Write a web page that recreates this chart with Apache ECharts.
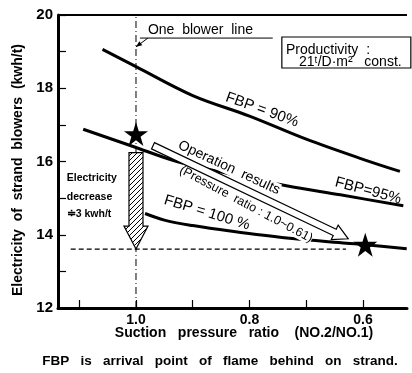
<!DOCTYPE html>
<html><head><meta charset="utf-8">
<script src="https://cdn.jsdelivr.net/npm/echarts@6/dist/echarts.min.js"></script>
<style>html,body{margin:0;padding:0;background:#fff}#c{width:412px;height:373px}</style>
</head><body><div id="c"></div>
<script>
// ---------- data ----------
const xTickValues = [1.1, 1.0, 0.9, 0.8, 0.7, 0.6];
const xLabelValues = [1.0, 0.8, 0.6];
const yTickValues = [12, 14, 16, 18, 20];
const fbp90X = [1.059, 1.0, 0.9, 0.8, 0.7, 0.6, 0.535];
const fbp90Y = [19.06, 18.59, 17.80, 17.24, 16.61, 16.06, 15.73];
const fbp95X = [1.093, 1.005, 0.928, 0.835, 0.735, 0.64, 0.529];
const fbp95Y = [16.88, 16.41, 16.00, 15.66, 15.34, 15.09, 14.79];
const fbp100X = [0.984, 0.95, 0.9, 0.834, 0.734, 0.629, 0.596, 0.523];
const fbp100Y = [14.58, 14.40, 14.25, 14.10, 13.91, 13.77, 13.73, 13.62];
const starX = [1.0, 0.596];
const starY = [16.75, 13.73];
const baseLevelX = [1.115, 0.63];
const baseLevelY = [13.61, 13.61];
const blowerLineX = [1.0, 1.0];
const blowerLineY = [12, 20];
const decreaseFrom = [1.0, 16.24];
const decreaseTo = [1.0, 13.61];
const opFrom = [0.970, 16.43];
const opTo = [0.626, 13.89];

const zip = (xs, ys) => xs.map((x, i) => [x, ys[i]]);
const FONT = '"Liberation Sans", Arial, sans-serif';
const X_MIN = 0.5225, X_MAX = 1.1374;

const starPath = 'path://M50,0 L61.2,34.5 L97.6,34.5 L68.2,55.9 L79.4,90.5 L50,69.1 L20.6,90.5 L31.8,55.9 L2.4,34.5 L38.8,34.5 Z';

const lineBase = {type: 'line', smooth: 0.35, showSymbol: false, symbol: 'none', silent: true,
  lineStyle: {color: '#000', width: 3}};

const option = {
  animation: false,
  backgroundColor: '#fff',
  grid: {left: 58, top: 15, right: 5, bottom: 65, containLabel: false},
  xAxis: {
    type: 'value', inverse: true, min: X_MIN, max: X_MAX,
    axisLine: {lineStyle: {color: '#000', width: 3}},
    axisTick: {inside: true, length: 8, customValues: xTickValues, lineStyle: {color: '#000', width: 1.2}},
    axisLabel: {customValues: xLabelValues, formatter: v => v.toFixed(1), color: '#000',
      fontFamily: FONT, fontSize: 14, fontWeight: 'bold', margin: 5},
    splitLine: {show: false}
  },
  yAxis: {
    type: 'value', min: 12, max: 20, interval: 2,
    axisLine: {show: true, lineStyle: {color: '#000', width: 3}},
    axisTick: {inside: true, length: 8, lineStyle: {color: '#000', width: 1.2}},
    minorTick: {show: true, splitNumber: 2, length: 8, lineStyle: {color: '#000', width: 1.2}},
    axisLabel: {color: '#000', fontFamily: FONT, fontSize: 15, fontWeight: 'bold', margin: 5},
    splitLine: {show: false}
  },
  series: [
    Object.assign({}, lineBase, {name: 'FBP=90%', data: zip(fbp90X, fbp90Y)}),
    Object.assign({}, lineBase, {name: 'FBP=95%', data: zip(fbp95X, fbp95Y)}),
    Object.assign({}, lineBase, {name: 'FBP=100%', data: zip(fbp100X, fbp100Y)}),
    {type: 'line', data: zip(baseLevelX, baseLevelY), symbol: 'none', silent: true,
      lineStyle: {color: '#000', width: 1.2, type: [5, 3]}},
    {type: 'line', data: zip(blowerLineX, blowerLineY), symbol: 'none', silent: true,
      lineStyle: {color: '#000', width: 1, type: [7, 3, 1, 3]}},
    {type: 'scatter', data: zip(starX, starY), symbol: starPath, symbolSize: 24, z: 200, silent: true,
      itemStyle: {color: '#000', opacity: 1}}
  ]
};

const chart = echarts.init(document.getElementById('c'), null, {renderer: 'canvas'});
chart.setOption(option);

const P = (x, y) => chart.convertToPixel({seriesIndex: 0}, [x, y]);

function arrowPoly(p0, p1, w, hw, hl) {
  const dx = p1[0] - p0[0], dy = p1[1] - p0[1], L = Math.hypot(dx, dy);
  const ux = dx / L, uy = dy / L, nx = -uy, ny = ux;
  const hx = p1[0] - ux * hl, hy = p1[1] - uy * hl;
  return [[p0[0] + nx * w, p0[1] + ny * w], [hx + nx * w, hy + ny * w], [hx + nx * hw, hy + ny * hw],
    [p1[0], p1[1]], [hx - nx * hw, hy - ny * hw], [hx - nx * w, hy - ny * w], [p0[0] - nx * w, p0[1] - ny * w]];
}

// hatch pattern
const pc = document.createElement('canvas'); pc.width = 5; pc.height = 5;
const g = pc.getContext('2d');
g.fillStyle = '#fff'; g.fillRect(0, 0, 5, 5);
g.strokeStyle = '#000'; g.lineWidth = 1;
g.beginPath(); g.moveTo(0, 5); g.lineTo(5, 0); g.moveTo(-1, 1); g.lineTo(1, -1); g.moveTo(4, 6); g.lineTo(6, 4); g.stroke();

function txt(x, y, text, opts) {
  opts = opts || {};
  return {type: 'text', x: x, y: y, rotation: opts.rot || 0, z: opts.z || 150,
    style: {text: text, fontFamily: FONT, fontSize: opts.size || 13, fontWeight: opts.weight || 'normal',
      fill: '#000', align: opts.align || 'center', verticalAlign: 'middle',
      backgroundColor: opts.bg || null, padding: 0}};
}

const deg = Math.PI / 180;
const topL = P(X_MAX, 20), topR = P(X_MIN, 20);
const dA = P(decreaseFrom[0], decreaseFrom[1]), dB = P(decreaseTo[0], decreaseTo[1]);
const oA = P(opFrom[0], opFrom[1]), oB = P(opTo[0], opTo[1]);
const uL = P(0.993, 19.37), uR = P(0.759, 19.37), lTip = P(1.0, 19.13), lStart = P(0.979, 19.37);
const lx = lTip[0] - lStart[0], ly = lTip[1] - lStart[1], ll = Math.hypot(lx, ly);
const lux = lx / ll, luy = ly / ll;
const headPts = [lTip, [lTip[0] - lux * 6 - luy * 2.5, lTip[1] - luy * 6 + lux * 2.5],
  [lTip[0] - lux * 6 + luy * 2.5, lTip[1] - luy * 6 - lux * 2.5]];

const graphics = [
  {type: 'line', z: 120, shape: {x1: topL[0], y1: topL[1], x2: topR[0], y2: topR[1]}, style: {stroke: '#000', lineWidth: 2}},
  // One blower line annotation
  {type: 'line', z: 120, shape: {x1: uL[0], y1: uL[1], x2: uR[0], y2: uR[1]}, style: {stroke: '#000', lineWidth: 1}},
  {type: 'line', z: 120, shape: {x1: lStart[0], y1: lStart[1], x2: lTip[0], y2: lTip[1]}, style: {stroke: '#000', lineWidth: 1}},
  {type: 'polygon', z: 120, shape: {points: headPts}, style: {fill: '#000'}},
  txt(P(0.979, 19.59)[0], P(0.979, 19.59)[1], 'One  blower  line', {align: 'left', size: 14}),
  // productivity box
  {type: 'rect', z: 120, shape: {x: P(0.743, 19.40)[0], y: P(0.743, 19.40)[1], width: 129, height: 31},
    style: {fill: '#fff', stroke: '#000', lineWidth: 1.2}},
  txt(286, 50, 'Productivity  :', {align: 'left', size: 14}),
  txt(299, 62, '21ᵗ/D·m²   const.', {align: 'left', size: 14}),
  // hatched decrease arrow
  {type: 'polygon', z: 130, shape: {points: arrowPoly(dA, dB, 7, 12, 23)},
    style: {fill: {image: pc, repeat: 'repeat'}, stroke: '#000', lineWidth: 1.2}},
  txt(P(1.122, 15.55)[0], P(1.122, 15.55)[1], 'Electricity', {align: 'left', size: 10.5, weight: 'bold'}),
  txt(P(1.122, 15.04)[0], P(1.122, 15.04)[1], 'decrease', {align: 'left', size: 10.5, weight: 'bold'}),
  txt(P(1.122, 14.55)[0], P(1.122, 14.55)[1], '≑3 kwh/t', {align: 'left', size: 10.5, weight: 'bold'}),
  // operation results arrow and texts
  txt(P(0.836, 15.83)[0], P(0.836, 15.83)[1], 'Operation  results', {rot: -25 * deg, size: 14, bg: '#fff', z: 123}),
  txt(P(0.806, 14.83)[0], P(0.806, 14.83)[1], '(Pressure  ratio : 1.0~0.61)', {rot: -28 * deg, size: 12.5, bg: '#fff', z: 125}),
  {type: 'polygon', z: 130, shape: {points: arrowPoly(oA, oB, 3.5, 8, 15)},
    style: {fill: '#fff', stroke: '#000', lineWidth: 1.2}},
  // curve labels
  txt(P(0.778, 17.41)[0], P(0.778, 17.41)[1], 'FBP = 90%', {rot: -20 * deg, size: 15}),
  txt(P(0.591, 15.20)[0], P(0.591, 15.20)[1], 'FBP=95%', {rot: -15 * deg, size: 15}),
  txt(P(0.875, 14.60)[0], P(0.875, 14.60)[1], 'FBP = 100 %', {rot: -17 * deg, size: 15}),
  // axis titles and caption
  txt(18, 170, 'Electricity  of  strand  blowers  (kwh/t)', {rot: 90 * deg, size: 14, weight: 'bold'}),
  txt(244, 333, 'Suction   pressure   ratio    (NO.2/NO.1)', {size: 14, weight: 'bold'}),
  txt(220, 361, 'FBP   is   arrival   point   of   flame   behind   on   strand.', {size: 13.5, weight: 'bold'})
];
chart.setOption({graphic: graphics});
</script></body></html>
